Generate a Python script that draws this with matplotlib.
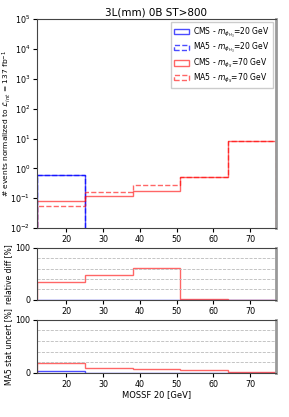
import numpy as np
import matplotlib
matplotlib.use('Agg')
import matplotlib.pyplot as plt
from matplotlib.patches import Patch

# MOSSF bin edges [GeV]
edges = [12, 25, 38, 51, 64, 77]

# events normalized to 137 fb^-1
cms_20 = [0.6, 0, 0, 0, 0]
ma5_20 = [0.6, 0, 0, 0, 0]
cms_70 = [0.08, 0.115, 0.175, 0.52, 8.5]
ma5_70 = [0.055, 0.165, 0.28, 0.52, 8.5]

# relative difference [%]
rel_20 = [0, 0, 0, 0, 0]
rel_70 = [34, 47, 61, 1, 0.5]

# MA5 statistical uncertainty [%]
unc_20 = [3, 0, 0, 0, 0]
unc_70 = [18, 10, 7, 5, 1]

lab20 = r'$m_{\phi_{H_3}}$=20 GeV'
lab70 = r'$m_{\phi_S}$=70 GeV'

fig = plt.figure(figsize=(2.89, 4.17), dpi=100)
ax1 = fig.add_axes([0.128, 0.453, 0.827, 0.501])
ax2 = fig.add_axes([0.128, 0.281, 0.827, 0.125])
ax3 = fig.add_axes([0.128, 0.106, 0.827, 0.127])

blue = (0, 0, 1, 0.7)
red = (1, 0, 0, 0.6)

ax1.set_yscale('log')
ax1.stairs(cms_20, edges, baseline=0, fill=False, color=blue, lw=1)
ax1.stairs(ma5_20, edges, baseline=0, fill=False, color=blue, lw=1, ls='--')
ax1.stairs(cms_70, edges, baseline=0, fill=False, color=red, lw=1)
ax1.stairs(ma5_70, edges, baseline=0, fill=False, color=red, lw=1, ls='--')
ax1.set_ylim(1e-2, 1e5)
ax1.set_title('3L(mm) 0B ST>800', fontsize=7.5, pad=3)
ax1.set_ylabel(r'# events normalized to $\mathcal{L}_{int}$ = 137 fb$^{-1}$', fontsize=5.4)

handles = [
    Patch(facecolor='none', edgecolor=blue, lw=1, label='CMS - ' + lab20),
    Patch(facecolor='none', edgecolor=blue, lw=1, ls='--', label='MA5 - ' + lab20),
    Patch(facecolor='none', edgecolor=red, lw=1, label='CMS - ' + lab70),
    Patch(facecolor='none', edgecolor=red, lw=1, ls='--', label='MA5 - ' + lab70),
]
ax1.legend(handles=handles, fontsize=5.5, loc='upper right', handlelength=1.9,
           handletextpad=0.6, labelspacing=0.2, borderpad=0.4, framealpha=1,
           fancybox=False, edgecolor='#cccccc', borderaxespad=0.4)

ax2.stairs(rel_20, edges, baseline=0, fill=False, color=blue, lw=1)
ax2.stairs(rel_70, edges, baseline=0, fill=False, color=red, lw=1)
ax2.set_ylabel('relative diff [%]', fontsize=5.5)

ax3.stairs(unc_20, edges, baseline=0, fill=False, color=blue, lw=1)
ax3.stairs(unc_70, edges, baseline=0, fill=False, color=red, lw=1)
ax3.set_ylabel('MA5 stat uncert [%]', fontsize=5.5)
ax3.set_xlabel('MOSSF 20 [GeV]', fontsize=6, labelpad=1)

for ax in (ax2, ax3):
    ax.set_ylim(0, 100)
    ax.set_yticks([0, 100])
    ax.set_yticks([20, 40, 60, 80], minor=True)
    ax.grid(axis='y', which='minor', ls='--', color='#bbbbbb', lw=0.6)

for ax in (ax1, ax2, ax3):
    ax.set_xlim(12, 77)
    ax.set_xticks([20, 30, 40, 50, 60, 70])
    ax.tick_params(labelsize=5.8, length=3, pad=2)
    ax.tick_params(which='minor', length=0)
    ax.yaxis.set_label_coords(-0.1, 0.5)
    for s in ax.spines.values():
        s.set_color('#444444')
        s.set_linewidth(0.8)
    ax.spines['right'].set_color('#999999')
    ax.spines['right'].set_linewidth(2)

fig.savefig('out.png', dpi=100)
